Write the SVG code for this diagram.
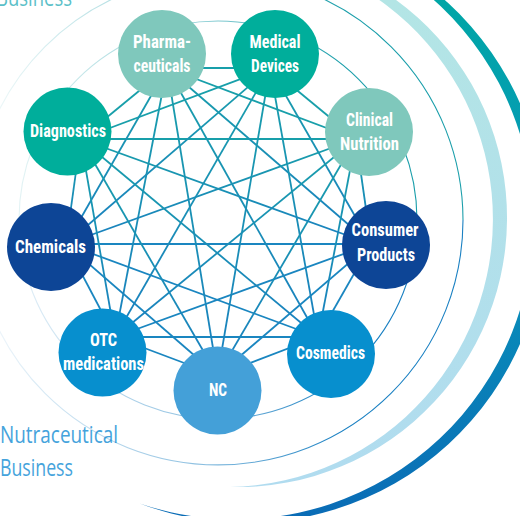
<svg xmlns="http://www.w3.org/2000/svg" width="520" height="516" viewBox="0 0 520 516">
  <style>
    .lbl { font-family: "Liberation Sans Narrow", "Roboto Condensed", "Liberation Sans", Arial, sans-serif; font-weight: 700; font-size: 19px; fill: #ffffff; text-anchor: middle; }
    .biz { font-family: "Open Sans", "Liberation Sans", Arial, sans-serif; font-size: 23px; }
    .ring { fill: none; stroke-width: 1.1; }
    .conn line { stroke-width: 1.8; }
    .tt { stroke: #189faa; }
    .bb { stroke: #1a86c0; }
  </style>
  <defs>
    <!-- outer swoosh colours -->
    <linearGradient id="bandDark" gradientUnits="userSpaceOnUse" x1="0" y1="0" x2="0" y2="516">
      <stop offset="0" stop-color="#00a6a6"/>
      <stop offset="0.45" stop-color="#0896ba"/>
      <stop offset="1" stop-color="#0a6cb6"/>
    </linearGradient>
    <linearGradient id="bandLight" gradientUnits="userSpaceOnUse" x1="0" y1="0" x2="0" y2="516">
      <stop offset="0" stop-color="#b3e5e5"/>
      <stop offset="1" stop-color="#b0dbf0"/>
    </linearGradient>
    <!-- thin rings fade out towards the left -->
    <linearGradient id="ringTop" gradientUnits="userSpaceOnUse" x1="-40" y1="0" x2="440" y2="0">
      <stop offset="0" stop-color="#1a9eaa" stop-opacity="0"/>
      <stop offset="0.5" stop-color="#1a9eaa" stop-opacity="0.5"/>
      <stop offset="0.8" stop-color="#1a9eaa" stop-opacity="1"/>
    </linearGradient>
    <linearGradient id="ringBottom" gradientUnits="userSpaceOnUse" x1="-40" y1="0" x2="440" y2="0">
      <stop offset="0" stop-color="#1a80c2" stop-opacity="0"/>
      <stop offset="0.5" stop-color="#1a80c2" stop-opacity="0.5"/>
      <stop offset="0.8" stop-color="#1a80c2" stop-opacity="1"/>
    </linearGradient>
    <!-- teal-to-blue connector base -->
    <linearGradient id="tb">
      <stop offset="0" stop-color="#189faa"/>
      <stop offset="1" stop-color="#1a80c0"/>
    </linearGradient>
    <linearGradient id="g-p-ch" href="#tb" gradientUnits="userSpaceOnUse" x1="167" y1="68" x2="66" y2="244"/>
    <linearGradient id="g-p-cp" href="#tb" gradientUnits="userSpaceOnUse" x1="167" y1="68" x2="371" y2="244"/>
    <linearGradient id="g-p-otc" href="#tb" gradientUnits="userSpaceOnUse" x1="167" y1="68" x2="115" y2="337"/>
    <linearGradient id="g-p-co" href="#tb" gradientUnits="userSpaceOnUse" x1="167" y1="68" x2="318" y2="337"/>
    <linearGradient id="g-p-nc" href="#tb" gradientUnits="userSpaceOnUse" x1="167" y1="68" x2="217.5" y2="375.5"/>
    <linearGradient id="g-m-ch" href="#tb" gradientUnits="userSpaceOnUse" x1="270" y1="68" x2="66" y2="244"/>
    <linearGradient id="g-m-cp" href="#tb" gradientUnits="userSpaceOnUse" x1="270" y1="68" x2="371" y2="244"/>
    <linearGradient id="g-m-otc" href="#tb" gradientUnits="userSpaceOnUse" x1="270" y1="68" x2="115" y2="337"/>
    <linearGradient id="g-m-co" href="#tb" gradientUnits="userSpaceOnUse" x1="270" y1="68" x2="318" y2="337"/>
    <linearGradient id="g-m-nc" href="#tb" gradientUnits="userSpaceOnUse" x1="270" y1="68" x2="217.5" y2="375.5"/>
    <linearGradient id="g-cn-ch" href="#tb" gradientUnits="userSpaceOnUse" x1="356" y1="139" x2="66" y2="244"/>
    <linearGradient id="g-cn-cp" href="#tb" gradientUnits="userSpaceOnUse" x1="356" y1="139" x2="371" y2="244"/>
    <linearGradient id="g-cn-otc" href="#tb" gradientUnits="userSpaceOnUse" x1="356" y1="139" x2="115" y2="337"/>
    <linearGradient id="g-cn-co" href="#tb" gradientUnits="userSpaceOnUse" x1="356" y1="139" x2="318" y2="337"/>
    <linearGradient id="g-cn-nc" href="#tb" gradientUnits="userSpaceOnUse" x1="356" y1="139" x2="217.5" y2="375.5"/>
    <linearGradient id="g-d-ch" href="#tb" gradientUnits="userSpaceOnUse" x1="80.5" y1="139" x2="66" y2="244"/>
    <linearGradient id="g-d-cp" href="#tb" gradientUnits="userSpaceOnUse" x1="80.5" y1="139" x2="371" y2="244"/>
    <linearGradient id="g-d-otc" href="#tb" gradientUnits="userSpaceOnUse" x1="80.5" y1="139" x2="115" y2="337"/>
    <linearGradient id="g-d-co" href="#tb" gradientUnits="userSpaceOnUse" x1="80.5" y1="139" x2="318" y2="337"/>
    <linearGradient id="g-d-nc" href="#tb" gradientUnits="userSpaceOnUse" x1="80.5" y1="139" x2="217.5" y2="375.5"/>
  </defs>

  <rect width="520" height="516" fill="#ffffff"/>

  <!-- business captions -->
  <text class="biz" x="-4" y="6" textLength="76" lengthAdjust="spacingAndGlyphs" fill="#5bbfc8">Business</text>
  <text class="biz" x="0" y="443" textLength="118" lengthAdjust="spacingAndGlyphs" fill="#45a3dc">Nutraceutical</text>
  <text class="biz" x="0" y="476" textLength="73" lengthAdjust="spacingAndGlyphs" fill="#45a3dc">Business</text>

  <!-- outer swooshes -->
  <g id="swooshes">
    <path d="M236,-75.4 A299.25,299.25 0 1 1 139.7,503.4 A297.4,297.4 0 1 0 236,-75.4 Z" fill="url(#bandDark)"/>
    <path d="M178.5,-44.9 A269.3,269.3 0 1 1 230.1,487 A268,268 0 1 0 178.5,-44.9 Z" fill="url(#bandLight)"/>
  </g>

  <!-- thin rings -->
  <g id="rings">
    <path class="ring" d="M19,220 A199,199 0 0 1 417,220" stroke="url(#ringTop)"/>
    <path class="ring" d="M417,220 A199,199 0 0 1 19,220" stroke="url(#ringBottom)"/>
    <path class="ring" d="M-27,220 A245,245 0 0 1 463,220" stroke="url(#ringTop)"/>
    <path class="ring" d="M463,220 A245,245 0 0 1 -27,220" stroke="url(#ringBottom)"/>
  </g>

  <!-- connectors: every node linked to every other -->
  <g id="connectors" class="conn">
    <line class="tt" x1="167" y1="68" x2="270" y2="68"/>
    <line class="tt" x1="167" y1="68" x2="356" y2="139"/>
    <line class="tt" x1="167" y1="68" x2="80.5" y2="139"/>
    <line class="tt" x1="270" y1="68" x2="356" y2="139"/>
    <line class="tt" x1="270" y1="68" x2="80.5" y2="139"/>
    <line class="tt" x1="356" y1="139" x2="80.5" y2="139"/>

    <line class="bb" x1="66" y1="244" x2="371" y2="244"/>
    <line class="bb" x1="66" y1="244" x2="115" y2="337"/>
    <line class="bb" x1="66" y1="244" x2="318" y2="337"/>
    <line class="bb" x1="66" y1="244" x2="217.5" y2="375.5"/>
    <line class="bb" x1="371" y1="244" x2="115" y2="337"/>
    <line class="bb" x1="371" y1="244" x2="318" y2="337"/>
    <line class="bb" x1="371" y1="244" x2="217.5" y2="375.5"/>
    <line class="bb" x1="115" y1="337" x2="318" y2="337"/>
    <line class="bb" x1="115" y1="337" x2="217.5" y2="375.5"/>
    <line class="bb" x1="318" y1="337" x2="217.5" y2="375.5"/>

    <line x1="167" y1="68" x2="66" y2="244" stroke="url(#g-p-ch)"/>
    <line x1="167" y1="68" x2="371" y2="244" stroke="url(#g-p-cp)"/>
    <line x1="167" y1="68" x2="115" y2="337" stroke="url(#g-p-otc)"/>
    <line x1="167" y1="68" x2="318" y2="337" stroke="url(#g-p-co)"/>
    <line x1="167" y1="68" x2="217.5" y2="375.5" stroke="url(#g-p-nc)"/>
    <line x1="270" y1="68" x2="66" y2="244" stroke="url(#g-m-ch)"/>
    <line x1="270" y1="68" x2="371" y2="244" stroke="url(#g-m-cp)"/>
    <line x1="270" y1="68" x2="115" y2="337" stroke="url(#g-m-otc)"/>
    <line x1="270" y1="68" x2="318" y2="337" stroke="url(#g-m-co)"/>
    <line x1="270" y1="68" x2="217.5" y2="375.5" stroke="url(#g-m-nc)"/>
    <line x1="356" y1="139" x2="66" y2="244" stroke="url(#g-cn-ch)"/>
    <line x1="356" y1="139" x2="371" y2="244" stroke="url(#g-cn-cp)"/>
    <line x1="356" y1="139" x2="115" y2="337" stroke="url(#g-cn-otc)"/>
    <line x1="356" y1="139" x2="318" y2="337" stroke="url(#g-cn-co)"/>
    <line x1="356" y1="139" x2="217.5" y2="375.5" stroke="url(#g-cn-nc)"/>
    <line x1="80.5" y1="139" x2="66" y2="244" stroke="url(#g-d-ch)"/>
    <line x1="80.5" y1="139" x2="371" y2="244" stroke="url(#g-d-cp)"/>
    <line x1="80.5" y1="139" x2="115" y2="337" stroke="url(#g-d-otc)"/>
    <line x1="80.5" y1="139" x2="318" y2="337" stroke="url(#g-d-co)"/>
    <line x1="80.5" y1="139" x2="217.5" y2="375.5" stroke="url(#g-d-nc)"/>
  </g>

  <!-- nodes -->
  <g id="node-pharmaceuticals">
    <circle cx="162" cy="54" r="44" fill="#7fc8bc"/>
    <text class="lbl" x="162" y="48" textLength="58" lengthAdjust="spacingAndGlyphs">Pharma-</text>
    <text class="lbl" x="162" y="72" textLength="57" lengthAdjust="spacingAndGlyphs">ceuticals</text>
  </g>
  <g id="node-medical-devices">
    <circle cx="275" cy="54" r="44" fill="#00ae9b"/>
    <text class="lbl" x="275" y="48" textLength="51" lengthAdjust="spacingAndGlyphs">Medical</text>
    <text class="lbl" x="275" y="72" textLength="48" lengthAdjust="spacingAndGlyphs">Devices</text>
  </g>
  <g id="node-clinical-nutrition">
    <circle cx="369" cy="132" r="44" fill="#7fc8bc"/>
    <text class="lbl" x="369.5" y="126" textLength="47" lengthAdjust="spacingAndGlyphs">Clinical</text>
    <text class="lbl" x="369.5" y="150" textLength="59" lengthAdjust="spacingAndGlyphs">Nutrition</text>
  </g>
  <g id="node-consumer-products">
    <circle cx="386" cy="245" r="44" fill="#0d4596"/>
    <text class="lbl" x="385" y="236" textLength="67" lengthAdjust="spacingAndGlyphs">Consumer</text>
    <text class="lbl" x="386" y="261" textLength="58" lengthAdjust="spacingAndGlyphs">Products</text>
  </g>
  <g id="node-cosmedics">
    <circle cx="331" cy="354" r="44" fill="#078fce"/>
    <text class="lbl" x="330.5" y="359" textLength="69" lengthAdjust="spacingAndGlyphs">Cosmedics</text>
  </g>
  <g id="node-nc">
    <circle cx="217.5" cy="390.5" r="44" fill="#44a0d8"/>
    <text class="lbl" x="218" y="396" textLength="18" lengthAdjust="spacingAndGlyphs">NC</text>
  </g>
  <g id="node-otc-medications">
    <circle cx="102.5" cy="352.5" r="44" fill="#078fce"/>
    <text class="lbl" x="103.5" y="346" textLength="27" lengthAdjust="spacingAndGlyphs">OTC</text>
    <text class="lbl" x="103.5" y="370" textLength="81" lengthAdjust="spacingAndGlyphs">medications</text>
  </g>
  <g id="node-chemicals">
    <circle cx="51" cy="247" r="44" fill="#0d4596"/>
    <text class="lbl" x="50.5" y="253" textLength="71" lengthAdjust="spacingAndGlyphs">Chemicals</text>
  </g>
  <g id="node-diagnostics">
    <circle cx="67.5" cy="131.5" r="44" fill="#00ae9b"/>
    <text class="lbl" x="68" y="137" textLength="76" lengthAdjust="spacingAndGlyphs">Diagnostics</text>
  </g>
</svg>
